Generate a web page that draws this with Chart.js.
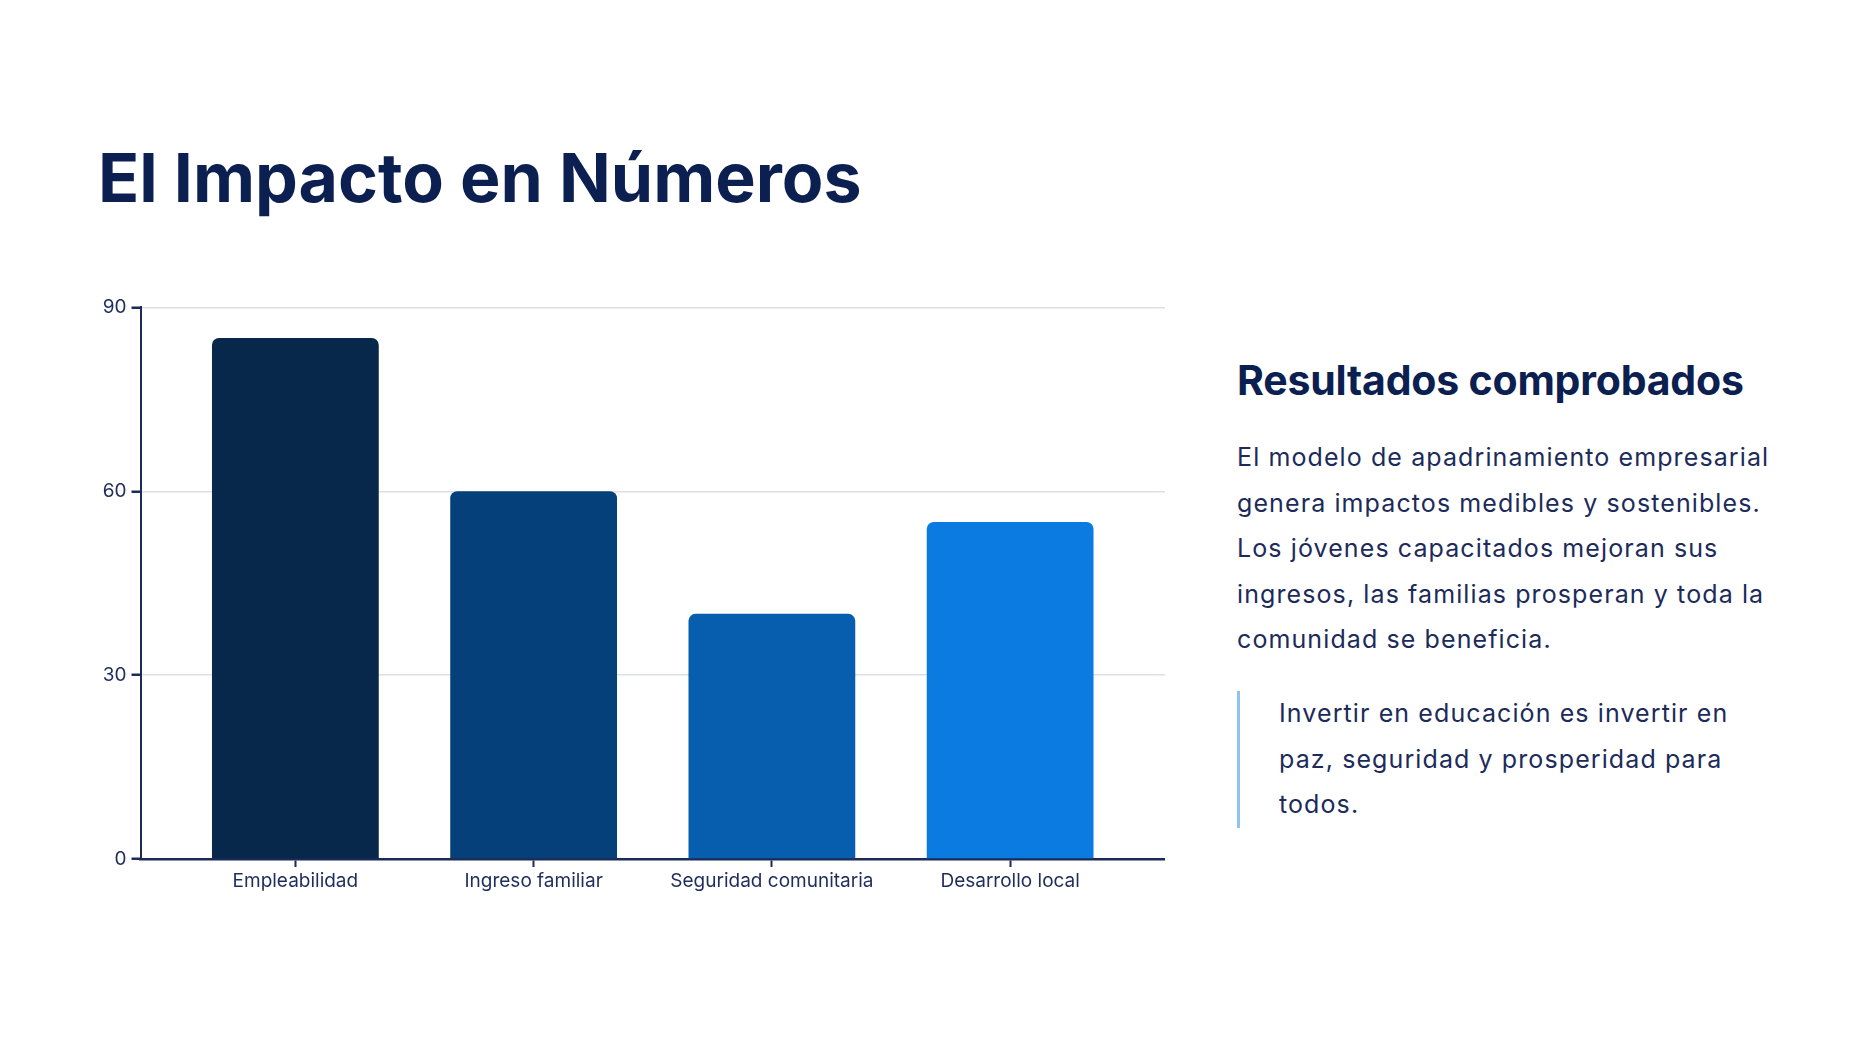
<!DOCTYPE html>
<html lang="es">
<head>
<meta charset="utf-8">
<title>El Impacto en Números</title>
<script src="https://cdn.jsdelivr.net/npm/chart.js@4.4.1/dist/chart.umd.min.js"></script>
<style>
  html, body { margin: 0; padding: 0; background: #ffffff; }
  body { width: 1875px; height: 1057px; position: relative; overflow: hidden; font-family: Inter, "Noto Sans", sans-serif; color: #1c2b5a; }
  h1 { position: absolute; left: 98px; top: 143px; margin: 0; font-size: 68px; line-height: 1; font-weight: 700; color: #0b1f50; letter-spacing: 0; }
  #chartBox { position: absolute; left: 80px; top: 291px; width: 1085px; height: 608px; }
  h2 { position: absolute; left: 1237px; top: 360px; margin: 0; font-size: 41px; line-height: 1; font-weight: 700; color: #0b1f50; white-space: nowrap; letter-spacing: -0.2px; }
  p.body { position: absolute; left: 1237px; top: 435px; margin: 0; font-size: 25px; line-height: 45.5px; color: #1c2b5a; white-space: nowrap; letter-spacing: 1.1px; }
  .quote { position: absolute; left: 1237px; top: 691px; border-left: 3px solid #90c3f2; padding-left: 39px; font-size: 25px; line-height: 45.5px; color: #1c2b5a; white-space: nowrap; letter-spacing: 1.1px; }
</style>
</head>
<body>
<h1>El Impacto en Números</h1>
<div id="chartBox"><canvas id="impacto"></canvas></div>
<h2>Resultados comprobados</h2>
<p class="body">El modelo de apadrinamiento empresarial<br>genera impactos medibles y sostenibles.<br>Los jóvenes capacitados mejoran sus<br>ingresos, las familias prosperan y toda la<br>comunidad se beneficia.</p>
<div class="quote">Invertir en educación es invertir en<br>paz, seguridad y prosperidad para<br>todos.</div>

<script>
// datos
const categories = ['Empleabilidad', 'Ingreso familiar', 'Seguridad comunitaria', 'Desarrollo local'];
const values = [85, 60, 40, 55];
const yTicks = [0, 30, 60, 90];
const barColors = ['#07274b', '#05407b', '#085eae', '#0b7ae1'];

const axisColor = '#1b2a58';
const gridColor = '#dcdfe6';

Chart.defaults.font.family = 'Inter, "Noto Sans", sans-serif';
Chart.defaults.font.size = 19;
Chart.defaults.color = '#1f2d5c';

let ctx = document.getElementById('impacto').getContext('2d');

let chart = new Chart(ctx, {
    type: 'bar',
    data: {
        datasets: [{
            data: values.map((v, i) => ({ x: i, y: v })),
            backgroundColor: barColors,
            borderRadius: 7,
            borderSkipped: 'bottom',
            categoryPercentage: 1,
            barPercentage: 0.7
        }]
    },
    options: {
        responsive: true,
        maintainAspectRatio: false,
        animation: false,
        layout: { padding: { top: 12, right: 0, bottom: 0, left: 0 } },
        plugins: {
            legend: { display: false },
            tooltip: { enabled: false }
        },
        scales: {
            x: {
                type: 'linear',
                offset: false,
                min: -0.65,
                max: 3.65,
                afterBuildTicks: (scale) => {
                    scale.ticks = categories.map((c, i) => ({ value: i }));
                },
                afterFit: (scale) => { scale.height = 40; },
                ticks: {
                    autoSkip: false,
                    maxRotation: 0,
                    padding: 3,
                    callback: (v) => categories[v]
                },
                grid: {
                    offset: false,
                    drawOnChartArea: false,
                    drawTicks: true,
                    tickLength: 8,
                    tickWidth: 2,
                    tickColor: axisColor
                },
                border: { color: axisColor, width: 2.5 }
            },
            y: {
                min: 0,
                max: 90,
                afterBuildTicks: (scale) => {
                    scale.ticks = yTicks.map(v => ({ value: v }));
                },
                afterFit: (scale) => { scale.width = 60.5; },
                ticks: { padding: 5 },
                grid: {
                    color: gridColor,
                    lineWidth: 1.5,
                    tickLength: 9,
                    tickWidth: 2.5,
                    tickColor: axisColor
                },
                border: { color: axisColor, width: 2 }
            }
        }
    }
});
</script>
</body>
</html>
